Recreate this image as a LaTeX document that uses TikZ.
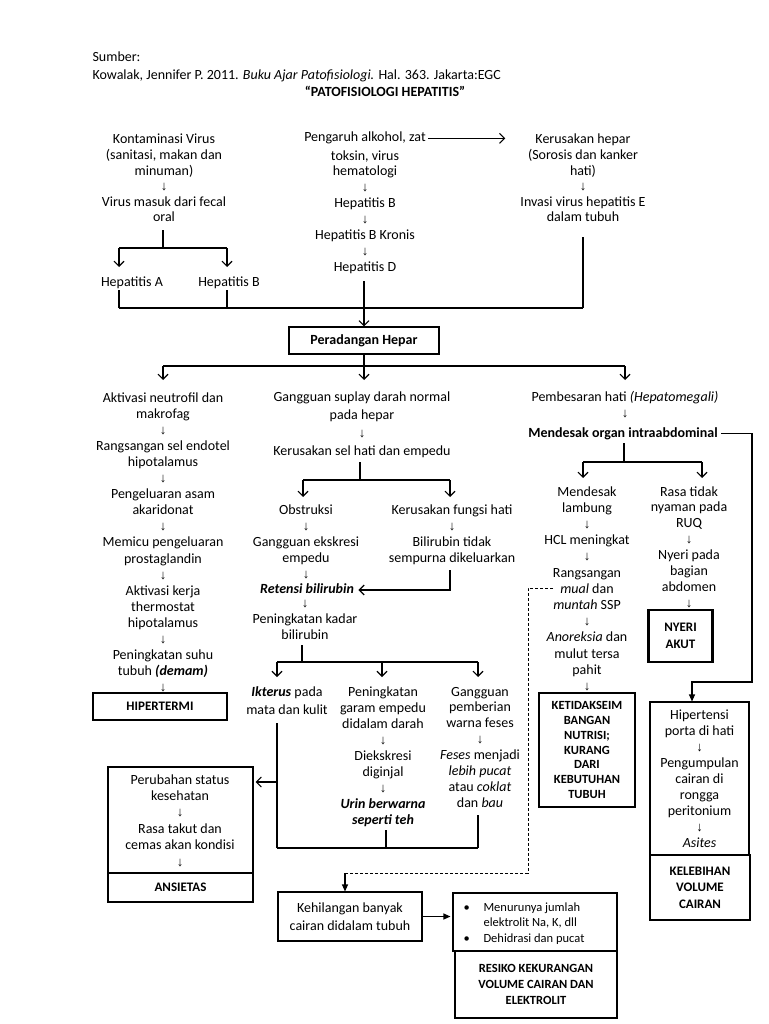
\documentclass[tikz,border=0pt]{standalone}
\usepackage{fontspec}
\setmainfont{Carlito}
\newfontfamily\arrfont{Liberation Sans}
\usetikzlibrary{arrows.meta,calc}
\newcommand\dn{{\arrfont\fontsize{13}{13}\selectfont ↓}}
\tikzset{
  txt/.style={anchor=base, align=center, inner sep=0pt, font=\fontsize{14}{#1}\selectfont},
  txt/.default=16,
  txtl/.style={anchor=base west, inner sep=0pt, font=\fontsize{14}{16}\selectfont},
  thinbox/.style={draw, line width=1.1pt, inner sep=0pt, align=center},
  thickbox/.style={draw, line width=2.8pt, inner sep=0pt, align=center},
  lbl/.style={font=\bfseries\fontsize{13}{#1}\selectfont},
  lbl/.default=16,
  arr/.style={-{Straight Barb[length=5pt,width=10pt,line width=1.1pt]}},
  tri/.style={-{Triangle[length=7pt,width=6pt]}}
}
\begin{document}
\begin{tikzpicture}[x=1pt,y=-1pt,line width=1.1pt]
\useasboundingbox[fill=white] (0,0) rectangle (768,1024);

% ---------- header ----------
\node[txtl] (src1) at (92,62) {Sumber:};
\node[txtl] (src2) at (92,80) {Kowalak, Jennifer P. 2011. \textit{Buku Ajar Patofisiologi.} Hal. 363. Jakarta:EGC};
\node[txt, font=\bfseries\fontsize{14}{16}\selectfont] (title) at (385,97) {“PATOFISIOLOGI HEPATITIS”};

% ---------- top (anchor = baseline of last line) ----------
\node[txt=15.6] (kv) at (164,222) {Kontaminasi Virus\\(sanitasi, makan dan\\minuman)\\\dn\\Virus masuk dari fecal\\oral};
\node[txt] (hepA) at (132,286) {Hepatitis A};
\node[txt] (hepB) at (229,286) {Hepatitis B};
\node[txt] (alk1) at (365,142) {Pengaruh alkohol, zat};
\node[txt=15.9] (alk2) at (365,271.3) {toksin, virus\\hematologi\\\dn\\Hepatitis B\\\dn\\Hepatitis B Kronis\\\dn\\Hepatitis D};
\node[txt=15.6] (kh) at (583,222) {Kerusakan hepar\\(Sorosis dan kanker\\hati)\\\dn\\Invasi virus hepatitis E\\dalam tubuh};

\node[thinbox, minimum width=150pt, minimum height=27pt, font=\bfseries\fontsize{14}{16}\selectfont] (perad) at (364,340.5) {Peradangan Hepar};

% ---------- left column ----------
\node[txt=16.1] (lc) at (163,691.8) {Aktivasi neutrofil dan\\makrofag\\\dn\\Rangsangan sel endotel\\hipotalamus\\\dn\\Pengeluaran asam\\akaridonat\\\dn\\Memicu pengeluaran\\prostaglandin\\\dn\\Aktivasi kerja\\thermostat\\hipotalamus\\\dn\\Peningkatan suhu\\tubuh \textbf{\textit{(demam)}}\\\dn};
\node[thickbox, lbl, minimum width=134pt, minimum height=27pt] (hiper) at (160,706.5) {HIPERTERMI};

% ---------- middle column ----------
\node[txt=18.3] (mc) at (362,455.9) {Gangguan suplay darah normal\\pada hepar\\\dn\\Kerusakan sel hati dan empedu};
\node[txt=16.2] (obs) at (306,578.8) {Obstruksi\\\dn\\Gangguan ekskresi\\empedu\\\dn};
\node[txt, font=\bfseries\itshape\fontsize{14}{16}\selectfont] (ret) at (307,593) {Retensi bilirubin};
\node[txt=16] (pk) at (305,639) {\dn\\Peningkatan kadar\\bilirubin};
\node[txt=16] (kf) at (452,562) {Kerusakan fungsi hati\\\dn\\Bilirubin tidak\\sempurna dikeluarkan};

\node[txt=18] (ikt) at (287,714) {\textbf{\textit{Ikterus}} pada\\mata dan kulit};
\node[txt=16] (pg) at (383,824) {Peningkatan\\garam empedu\\didalam darah\\\dn\\Diekskresi\\diginjal\\\dn\\\textbf{\textit{Urin berwarna}}\\\textbf{\textit{seperti teh}}};
\node[txt=15.9] (gf) at (480,807.3) {Gangguan\\pemberian\\warna feses\\\dn\\\textit{Feses} menjadi\\\textit{lebih pucat}\\atau \textit{coklat}\\dan \textit{bau}};

% ---------- ansietas ----------
\node[thinbox, minimum width=145pt, minimum height=106pt] (anso) at (180.5,820) {};
\node[txt=16.4] (anstxt) at (180,866) {Perubahan status\\kesehatan\\\dn\\Rasa takut dan\\cemas akan kondisi\\\dn};
\node[thickbox, lbl, minimum width=145pt, minimum height=29pt] (ansiet) at (180.5,887.5) {ANSIETAS};

% ---------- right column ----------
\node[txt=16] (pemb) at (625,417) {Pembesaran hati \textit{(Hepatomegali)}\\\dn};
\node[txt, font=\bfseries\fontsize{14}{16}\selectfont] (mend) at (623,437) {Mendesak organ intraabdominal};
\node[txt=16.2] (ml) at (587,690.4) {Mendesak\\lambung\\\dn\\HCL meningkat\\\dn\\Rangsangan\\\textit{mual} dan\\\textit{muntah} SSP\\\dn\\\textit{Anoreksia} dan\\mulut tersa\\pahit\\\dn};
\node[thickbox, font=\bfseries\fontsize{12.5}{14.7}\selectfont, minimum width=96pt, minimum height=114pt] (ketid) at (587,750) {KETIDAKSEIM\\BANGAN\\NUTRISI;\\KURANG\\DARI\\KEBUTUHAN\\TUBUH};
\node[txt=15.9] (rt) at (689,607.3) {Rasa tidak\\nyaman pada\\RUQ\\\dn\\Nyeri pada\\bagian\\abdomen\\\dn};
\node[thickbox, lbl=17, minimum width=64pt, minimum height=52pt] (nyeri) at (680.5,636) {NYERI\\AKUT};
\node[thinbox, font=\fontsize{14}{16}\selectfont, minimum width=99pt, minimum height=153pt] (hip) at (699.5,778.5) {Hipertensi\\porta di hati\\\dn\\Pengumpulan\\cairan di\\rongga\\peritonium\\\dn\\\textit{Asites}};
\node[thickbox, lbl=16.5, minimum width=100pt, minimum height=65pt] (keleb) at (700,887.5) {KELEBIHAN\\VOLUME\\CAIRAN};

% ---------- bottom ----------
\node[thinbox, font=\fontsize{14}{18}\selectfont, minimum width=144pt, minimum height=49pt] (kehil) at (350,916.5) {Kehilangan banyak\\cairan didalam tubuh};
\node[thinbox, minimum width=164pt, minimum height=58pt] (bulbox) at (535,922) {};
\node[anchor=base west, inner sep=0pt, align=left, font=\fontsize{12.5}{15.5}\selectfont] (bul) at (463,942) {\makebox[20pt][l]{•}Menurunya jumlah\\\makebox[20pt][l]{}elektrolit Na, K, dll\\\makebox[20pt][l]{•}Dehidrasi dan pucat};
\node[thickbox, font=\bfseries\fontsize{12.5}{16}\selectfont, minimum width=162pt, minimum height=67pt] (resiko) at (536,984.5) {RESIKO KEKURANGAN\\VOLUME CAIRAN DAN\\ELEKTROLIT};

% ---------- connectors ----------
\coordinate (s1) at (163,248);
\coordinate (s1a) at (119,248);
\coordinate (s1b) at (227,248);
\draw (s1) -- ++(0,-18);
\draw (s1a) -- (s1b);
\draw[arr] (s1a) -- ++(0,19);
\draw[arr] (s1b) -- ++(0,19);
\coordinate (b1) at (119,308);
\coordinate (b3) at (227,308);
\coordinate (b2) at (583,308);
\draw (b1) -- (b2);
\draw (b1) -- ++(0,-18);
\draw (b3) -- ++(0,-18);
\draw (b2) -- ++(0,-71);
\draw[arr] ([yshift=45pt]perad.north) -- (perad.north);
\draw[arr] ([xshift=2pt]alk1.east) -- ++(77,0);
\coordinate (s2) at (364,366);
\coordinate (s2a) at (163,366);
\coordinate (s2c) at (625,366);
\draw (perad.south) -- (s2);
\draw (s2a) -- (s2c);
\draw[arr] (s2a) -- ++(0,14);
\draw[arr] (s2) -- ++(0,14);
\draw[arr] (s2c) -- ++(0,14);
\coordinate (s3) at (360,480);
\coordinate (s3a) at (303,480);
\coordinate (s3b) at (450,480);
\draw (s3) -- ++(0,-18);
\draw (s3a) -- (s3b);
\draw[arr] (s3a) -- ++(0,17);
\draw[arr] (s3b) -- ++(0,17);
\coordinate (k1) at (450,590);
\draw[arr] (k1) ++(0,-20) -- (k1) -- ([xshift=4pt]ret.east |- k1);
\coordinate (s4) at (302,662);
\coordinate (s4a) at (277,662);
\coordinate (s4b) at (382,662);
\coordinate (s4c) at (478,662);
\draw (s4) -- ++(0,-17);
\draw (s4a) -- (s4c);
\draw[arr] (s4a) -- ++(0,15);
\draw[arr] (s4b) -- ++(0,15);
\draw[arr] (s4c) -- ++(0,15);
\coordinate (c4a) at (277,848);
\coordinate (c4b) at (386,848);
\coordinate (c4c) at (478,848);
\coordinate (c4m) at (277,782);
\draw (c4a) -- (c4c);
\draw (c4a) -- ++(0,-125);
\draw (c4b) -- ++(0,-18);
\draw (c4c) -- ++(0,-33);
\draw[arr] (c4m) -- ([xshift=2pt]anso.east |- c4m);
\coordinate (s5) at (624,462);
\coordinate (s5a) at (583,462);
\coordinate (s5b) at (702,462);
\draw (s5) -- ++(0,-19);
\draw (s5a) -- (s5b);
\draw[arr] (s5a) -- ++(0,16);
\draw[arr] (s5b) -- ++(0,16);
\coordinate (r1) at (752,682);
\coordinate (r2) at (692,682);
\draw[tri] ([xshift=3pt]mend.east) -| (r1) -- (r2) -- (r2 |- hip.north);
\coordinate (d0) at (553,588);
\coordinate (d1) at (528,588);
\coordinate (d2) at (528,873);
\coordinate (d3) at (345,873);
\draw[line width=0.9pt, dash pattern=on 3pt off 2pt] (d0) -- (d1) -- (d2) -- (d3);
\draw[tri] (d3) -- (d3 |- kehil.north);
\draw[tri] (kehil.east) -- ([xshift=-2pt]bulbox.west |- kehil.east);
\end{tikzpicture}
\end{document}
